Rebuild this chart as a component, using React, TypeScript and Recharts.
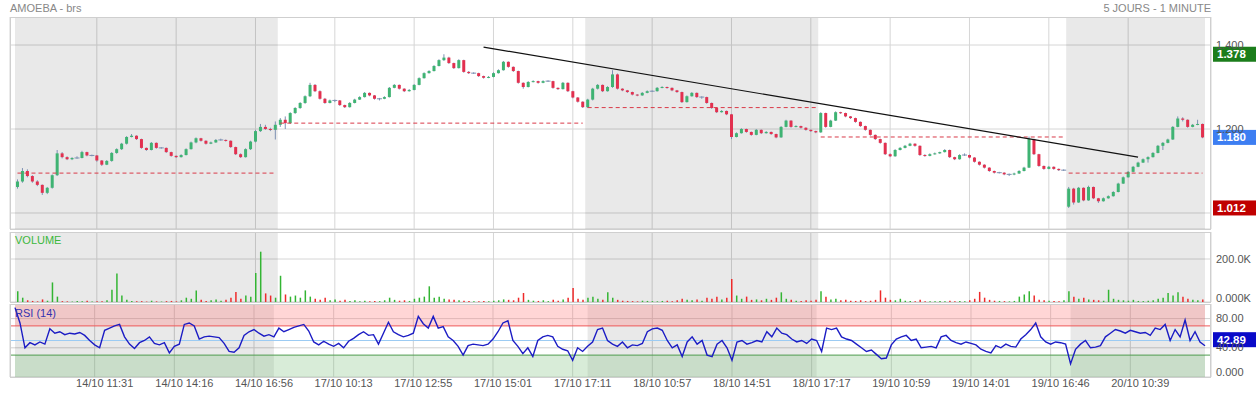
import {
  ComposedChart,
  Bar,
  Line,
  XAxis,
  YAxis,
  CartesianGrid,
  ReferenceArea,
  ReferenceLine,
  Cell,
} from "recharts";

const FONT = '"Liberation Sans", Arial, sans-serif';
const GREEN = "#3fb373";
const RED = "#e2304f";
const WICK = "#7d91b3";

// x axis: candle index of each label
const tickIdx = [16, 32, 48, 64, 80, 96, 112, 128, 144, 160, 176, 192, 208, 224];
const tickLabels = [
  "14/10 11:31", "14/10 14:16", "14/10 16:56", "17/10 10:13", "17/10 12:55",
  "17/10 15:01", "17/10 17:11", "18/10 10:57", "18/10 14:51", "18/10 17:17",
  "19/10 10:59", "19/10 14:01", "19/10 16:46", "20/10 10:39",
];

// grey sessions (14/10, 18/10, 20/10)
const shadeFrom = [0, 115, 212];
const shadeTo = [52, 161, 239];

// dashed red levels per session
const levelFrom = [0, 53, 115, 162, 212];
const levelTo = [52, 114, 161, 211, 239];
const levelValue = [1.095, 1.214, 1.251, 1.181, 1.095];

// trend line
const trendIdx = [94, 226];
const trendPrice = [1.395, 1.133];

// open, high, low, close
const candles: [number, number, number, number][] = [
  // 14/10
  [1.062, 1.080, 1.058, 1.075], [1.075, 1.107, 1.072, 1.100], [1.100, 1.104, 1.085, 1.088], [1.088, 1.090, 1.072, 1.075],
  [1.075, 1.078, 1.064, 1.067], [1.067, 1.068, 1.043, 1.048], [1.048, 1.062, 1.045, 1.060], [1.060, 1.092, 1.058, 1.090],
  [1.090, 1.150, 1.088, 1.142], [1.142, 1.145, 1.130, 1.133], [1.133, 1.135, 1.126, 1.128], [1.128, 1.133, 1.126, 1.131],
  [1.131, 1.135, 1.129, 1.131], [1.131, 1.148, 1.130, 1.145], [1.145, 1.146, 1.135, 1.137], [1.137, 1.139, 1.135, 1.137],
  [1.137, 1.138, 1.122, 1.125], [1.125, 1.126, 1.112, 1.115], [1.115, 1.126, 1.114, 1.124], [1.124, 1.145, 1.122, 1.143],
  [1.143, 1.154, 1.141, 1.152], [1.152, 1.167, 1.150, 1.165], [1.165, 1.183, 1.163, 1.181], [1.181, 1.188, 1.180, 1.184],
  [1.184, 1.185, 1.174, 1.176], [1.176, 1.177, 1.153, 1.155], [1.155, 1.156, 1.148, 1.150], [1.150, 1.169, 1.149, 1.167],
  [1.167, 1.168, 1.153, 1.155], [1.155, 1.157, 1.153, 1.155], [1.155, 1.156, 1.143, 1.145], [1.145, 1.146, 1.134, 1.136],
  [1.136, 1.137, 1.131, 1.133], [1.133, 1.140, 1.132, 1.138], [1.138, 1.154, 1.137, 1.152], [1.152, 1.170, 1.151, 1.168],
  [1.168, 1.180, 1.166, 1.178], [1.178, 1.179, 1.170, 1.172], [1.172, 1.173, 1.163, 1.165], [1.165, 1.170, 1.164, 1.168],
  [1.168, 1.176, 1.167, 1.174], [1.174, 1.177, 1.172, 1.174], [1.174, 1.175, 1.170, 1.172], [1.172, 1.173, 1.155, 1.157],
  [1.157, 1.158, 1.138, 1.140], [1.140, 1.142, 1.131, 1.133], [1.133, 1.154, 1.132, 1.152], [1.152, 1.172, 1.150, 1.170],
  [1.170, 1.198, 1.168, 1.195], [1.195, 1.212, 1.193, 1.205], [1.205, 1.210, 1.198, 1.200], [1.200, 1.203, 1.195, 1.198],
  [1.198, 1.218, 1.175, 1.210],
  // 17/10
  [1.210, 1.226, 1.205, 1.222], [1.222, 1.230, 1.200, 1.214], [1.214, 1.240, 1.212, 1.238],
  [1.238, 1.252, 1.236, 1.250], [1.250, 1.264, 1.248, 1.262], [1.262, 1.280, 1.260, 1.278], [1.278, 1.310, 1.276, 1.305],
  [1.305, 1.307, 1.288, 1.290], [1.290, 1.292, 1.270, 1.272], [1.272, 1.274, 1.260, 1.262], [1.262, 1.270, 1.261, 1.268],
  [1.268, 1.270, 1.264, 1.268], [1.268, 1.269, 1.255, 1.257], [1.257, 1.258, 1.250, 1.252], [1.252, 1.264, 1.251, 1.262],
  [1.262, 1.272, 1.261, 1.270], [1.270, 1.278, 1.269, 1.276], [1.276, 1.288, 1.275, 1.286], [1.286, 1.287, 1.278, 1.280],
  [1.280, 1.281, 1.270, 1.272], [1.272, 1.274, 1.268, 1.272], [1.272, 1.278, 1.271, 1.276], [1.276, 1.300, 1.275, 1.298],
  [1.298, 1.307, 1.297, 1.305], [1.305, 1.306, 1.294, 1.296], [1.296, 1.297, 1.288, 1.290], [1.290, 1.295, 1.289, 1.293],
  [1.293, 1.307, 1.292, 1.305], [1.305, 1.323, 1.304, 1.321], [1.321, 1.335, 1.320, 1.333], [1.333, 1.340, 1.332, 1.338],
  [1.338, 1.352, 1.337, 1.350], [1.350, 1.366, 1.349, 1.364], [1.364, 1.378, 1.362, 1.370], [1.370, 1.372, 1.355, 1.357],
  [1.357, 1.358, 1.343, 1.345], [1.345, 1.366, 1.344, 1.364], [1.364, 1.365, 1.334, 1.336], [1.336, 1.338, 1.331, 1.333],
  [1.333, 1.335, 1.331, 1.333], [1.333, 1.334, 1.324, 1.326], [1.326, 1.327, 1.320, 1.322], [1.322, 1.326, 1.321, 1.324],
  [1.324, 1.335, 1.323, 1.333], [1.333, 1.342, 1.332, 1.340], [1.340, 1.362, 1.339, 1.360], [1.360, 1.361, 1.346, 1.348],
  [1.348, 1.349, 1.336, 1.338], [1.338, 1.339, 1.308, 1.310], [1.310, 1.311, 1.296, 1.300], [1.300, 1.314, 1.299, 1.312],
  [1.312, 1.316, 1.311, 1.314], [1.314, 1.315, 1.308, 1.310], [1.310, 1.316, 1.309, 1.314], [1.314, 1.316, 1.312, 1.314],
  [1.314, 1.315, 1.296, 1.298], [1.298, 1.299, 1.293, 1.295], [1.295, 1.312, 1.294, 1.310], [1.310, 1.311, 1.288, 1.290],
  [1.290, 1.291, 1.273, 1.275], [1.275, 1.276, 1.263, 1.265], [1.265, 1.266, 1.250, 1.252],
  // 18/10
  [1.252, 1.272, 1.250, 1.270], [1.270, 1.298, 1.268, 1.296], [1.296, 1.307, 1.294, 1.305], [1.305, 1.306, 1.288, 1.290],
  [1.290, 1.302, 1.289, 1.300], [1.300, 1.340, 1.298, 1.330], [1.330, 1.332, 1.294, 1.296], [1.296, 1.297, 1.290, 1.292],
  [1.292, 1.293, 1.286, 1.288], [1.288, 1.289, 1.280, 1.282], [1.282, 1.283, 1.278, 1.280], [1.280, 1.288, 1.279, 1.286],
  [1.286, 1.292, 1.285, 1.290], [1.290, 1.292, 1.288, 1.290], [1.290, 1.300, 1.289, 1.298], [1.298, 1.302, 1.297, 1.300],
  [1.300, 1.301, 1.296, 1.298], [1.298, 1.299, 1.290, 1.292], [1.292, 1.293, 1.286, 1.288], [1.288, 1.289, 1.262, 1.264],
  [1.264, 1.280, 1.263, 1.278], [1.278, 1.288, 1.277, 1.286], [1.286, 1.287, 1.274, 1.276], [1.276, 1.278, 1.272, 1.276],
  [1.276, 1.277, 1.260, 1.262], [1.262, 1.263, 1.248, 1.250], [1.250, 1.251, 1.238, 1.240], [1.240, 1.245, 1.239, 1.243],
  [1.243, 1.244, 1.233, 1.235], [1.235, 1.236, 1.176, 1.181], [1.181, 1.192, 1.180, 1.190], [1.190, 1.202, 1.189, 1.200],
  [1.200, 1.201, 1.191, 1.193], [1.193, 1.194, 1.184, 1.186], [1.186, 1.200, 1.185, 1.198], [1.198, 1.199, 1.188, 1.190],
  [1.190, 1.195, 1.189, 1.193], [1.193, 1.194, 1.186, 1.188], [1.188, 1.189, 1.178, 1.180], [1.180, 1.207, 1.179, 1.205],
  [1.205, 1.222, 1.204, 1.220], [1.220, 1.221, 1.203, 1.205], [1.205, 1.209, 1.204, 1.207], [1.207, 1.208, 1.201, 1.203],
  [1.203, 1.204, 1.196, 1.198], [1.198, 1.199, 1.193, 1.195], [1.195, 1.196, 1.190, 1.192],
  // 19/10
  [1.192, 1.240, 1.191, 1.238], [1.238, 1.239, 1.203, 1.205], [1.205, 1.222, 1.204, 1.220], [1.220, 1.242, 1.219, 1.240],
  [1.240, 1.241, 1.236, 1.238], [1.238, 1.239, 1.228, 1.230], [1.230, 1.231, 1.224, 1.226], [1.226, 1.227, 1.215, 1.217],
  [1.217, 1.218, 1.205, 1.207], [1.207, 1.208, 1.196, 1.198], [1.198, 1.199, 1.184, 1.186], [1.186, 1.187, 1.174, 1.176],
  [1.176, 1.177, 1.165, 1.167], [1.167, 1.168, 1.138, 1.140], [1.140, 1.142, 1.133, 1.135], [1.135, 1.152, 1.134, 1.150],
  [1.150, 1.157, 1.149, 1.155], [1.155, 1.162, 1.154, 1.160], [1.160, 1.167, 1.159, 1.165], [1.165, 1.166, 1.158, 1.160],
  [1.160, 1.161, 1.136, 1.138], [1.138, 1.140, 1.134, 1.136], [1.136, 1.142, 1.135, 1.140], [1.140, 1.144, 1.139, 1.142],
  [1.142, 1.146, 1.141, 1.145], [1.145, 1.152, 1.144, 1.150], [1.150, 1.151, 1.131, 1.133], [1.133, 1.134, 1.126, 1.128],
  [1.128, 1.140, 1.127, 1.138], [1.138, 1.142, 1.136, 1.138], [1.138, 1.139, 1.130, 1.132], [1.132, 1.133, 1.120, 1.122],
  [1.122, 1.123, 1.113, 1.115], [1.115, 1.116, 1.106, 1.108], [1.108, 1.109, 1.098, 1.100], [1.100, 1.101, 1.094, 1.096],
  [1.096, 1.098, 1.094, 1.096], [1.096, 1.097, 1.090, 1.092], [1.092, 1.094, 1.088, 1.092], [1.092, 1.096, 1.090, 1.094],
  [1.094, 1.102, 1.093, 1.100], [1.100, 1.110, 1.099, 1.108], [1.108, 1.182, 1.107, 1.176], [1.176, 1.177, 1.138, 1.140],
  [1.140, 1.141, 1.110, 1.112], [1.112, 1.113, 1.103, 1.105], [1.105, 1.112, 1.104, 1.110], [1.110, 1.111, 1.103, 1.105],
  [1.105, 1.106, 1.100, 1.102], [1.102, 1.104, 1.100, 1.102],
  // 20/10
  [1.015, 1.062, 1.012, 1.058], [1.058, 1.060, 1.020, 1.025],
  [1.025, 1.062, 1.024, 1.060], [1.060, 1.061, 1.028, 1.030], [1.030, 1.065, 1.029, 1.062], [1.062, 1.063, 1.033, 1.035],
  [1.035, 1.036, 1.024, 1.028], [1.028, 1.037, 1.027, 1.035], [1.035, 1.042, 1.034, 1.040], [1.040, 1.052, 1.039, 1.050],
  [1.050, 1.072, 1.049, 1.070], [1.070, 1.087, 1.069, 1.085], [1.085, 1.100, 1.084, 1.098], [1.098, 1.112, 1.097, 1.110],
  [1.110, 1.122, 1.109, 1.120], [1.120, 1.130, 1.119, 1.128], [1.128, 1.135, 1.120, 1.133], [1.133, 1.145, 1.132, 1.143],
  [1.143, 1.162, 1.142, 1.160], [1.160, 1.169, 1.150, 1.167], [1.167, 1.177, 1.166, 1.175], [1.175, 1.207, 1.174, 1.205],
  [1.205, 1.230, 1.204, 1.225], [1.225, 1.228, 1.218, 1.222], [1.222, 1.223, 1.203, 1.205], [1.205, 1.212, 1.204, 1.210],
  [1.210, 1.222, 1.209, 1.212], [1.212, 1.213, 1.178, 1.180],
];

// volume in thousands
const volumesK = [
  50, 20, 8, 5, 3, 12, 6, 91, 25, 4,
  3, 2, 5, 3, 6, 2, 4, 3, 8, 57,
  132, 30, 10, 5, 3, 4, 2, 6, 3, 2,
  4, 5, 3, 8, 20, 15, 54, 10, 5, 8,
  12, 6, 10, 20, 47, 15, 30, 25, 135, 234,
  40, 30, 20, 122, 35, 25, 30, 20, 54, 25,
  15, 10, 20, 8, 12, 6, 10, 5, 8, 4,
  6, 3, 5, 4, 8, 20, 10, 6, 8, 5,
  15, 20, 25, 73, 20, 25, 15, 12, 10, 8,
  6, 5, 4, 3, 5, 4, 6, 8, 12, 10,
  8, 20, 42, 10, 6, 5, 8, 4, 10, 6,
  12, 20, 65, 15, 10, 20, 25, 15, 10, 45,
  20, 10, 6, 5, 4, 3, 6, 5, 4, 3,
  5, 6, 4, 8, 15, 10, 8, 12, 6, 20,
  15, 25, 12, 20, 107, 30, 15, 25, 10, 12,
  8, 15, 10, 20, 45, 15, 10, 6, 5, 8,
  6, 10, 50, 25, 12, 15, 8, 10, 6, 5,
  8, 4, 6, 10, 54, 20, 10, 8, 15, 6,
  5, 4, 10, 3, 4, 3, 5, 4, 6, 3,
  5, 4, 8, 15, 47, 20, 10, 6, 5, 4,
  3, 5, 25, 35, 50, 30, 10, 8, 6, 5,
  4, 8, 50, 25, 15, 20, 12, 10, 8, 6,
  57, 15, 10, 8, 6, 10, 5, 4, 6, 8,
  15, 20, 42, 30, 45, 25, 15, 10, 8, 12,
];

const rsi = [
  95, 74, 40, 47, 44, 48, 45, 66, 60, 62,
  58, 60, 59, 61, 57, 50, 44, 40, 64, 67,
  70, 72, 55, 45, 39, 47, 50, 55, 46, 44,
  47, 33, 42, 45, 72, 74, 70, 52, 55, 56,
  55, 54, 46, 35, 34, 40, 57, 62, 65, 60,
  56, 58, 55, 67, 62, 65, 68, 70, 72, 63,
  48, 44, 49, 45, 42, 46, 40, 49, 53, 58,
  62, 57, 58, 45, 60, 75, 62, 58, 55, 57,
  60, 83, 73, 67, 83, 67, 69, 55, 50, 42,
  30, 43, 45, 44, 43, 45, 52, 62, 74, 77,
  50, 42, 32, 40, 28, 50, 55, 57, 55, 42,
  38, 36, 23, 40, 35, 42, 48, 65, 67, 50,
  45, 42, 48, 40, 44, 43, 46, 62, 66, 67,
  64, 50, 40, 44, 28, 48, 55, 45, 50, 30,
  28, 45, 50, 40, 23, 48, 50, 45, 47, 50,
  48, 62, 55, 67, 60, 58, 52, 48, 50, 46,
  52, 50, 35, 67, 65, 67, 55, 52, 50, 45,
  40, 35, 37, 31, 25, 26, 44, 52, 55, 57,
  50, 52, 40, 41, 42, 40, 55, 57, 50, 47,
  45, 48, 46, 44, 38, 35, 33, 43, 40, 45,
  42, 41, 52, 58, 65, 74, 55, 48, 45, 48,
  47, 45, 18, 38, 45, 50, 40, 41, 43, 55,
  60, 65, 63, 60, 64, 62, 60, 61, 57, 67,
  65, 72, 50, 65, 55, 78, 50, 62, 48, 42.89,
];

const priceHigh = 1.378;
const priceLast = 1.18;
const priceLow = 1.012;
const rsiLast = 42.89;

const data = candles.map(([o, h, l, c], i) => ({
  i,
  o,
  h,
  l,
  c,
  range: [l, h],
  vol: volumesK[i],
  rsi: rsi[i],
}));

const chartMargin = { top: 0, right: 0, bottom: 0, left: 10 };
const xPad = { left: 5, right: 6 };

function Candle(props: any) {
  const { x, y, width, height, payload } = props;
  const { o, h, l, c } = payload;
  const cx = x + width / 2;
  if (!(h > l) || !(height > 0)) {
    return <line x1={x - 1} x2={x + width + 1} y1={y} y2={y} stroke={WICK} />;
  }
  const k = height / (h - l);
  const yo = y + (h - o) * k;
  const yc = y + (h - c) * k;
  const wick = <line x1={cx} x2={cx} y1={y} y2={y + height} stroke={WICK} strokeWidth={1} />;
  if (o === c) {
    return (
      <g>
        {wick}
        <line x1={x - 1} x2={x + width + 1} y1={yc} y2={yc} stroke={WICK} />
      </g>
    );
  }
  const top = Math.min(yo, yc);
  const bh = Math.max(Math.abs(yc - yo), 1);
  return (
    <g>
      {wick}
      <rect x={x} y={top} width={width} height={bh} fill={c > o ? GREEN : RED} />
    </g>
  );
}

function makeYTick(fmt: (v: number) => string, liftAt: number | null, lift: number) {
  return (props: any) => {
    const { x, y, payload } = props;
    const v = payload.value;
    return (
      <text x={x} y={y - (v === liftAt ? lift : 0)} dy={3.5} fill="#555" fontSize={11} fontFamily={FONT}>
        {fmt(v)}
      </text>
    );
  };
}

function XTick(props: any) {
  const { x, y, payload } = props;
  const k = tickIdx.indexOf(payload.value);
  return (
    <text x={x + 10} y={y} dy={8} textAnchor="middle" fill="#555" fontSize={11} fontFamily={FONT}>
      {k >= 0 ? tickLabels[k] : ""}
    </text>
  );
}

function badge(text: string, fill: string, lift = 0) {
  return (props: any) => {
    const { viewBox } = props;
    const x = viewBox.x + viewBox.width + 2;
    const y = viewBox.y - lift;
    return (
      <g>
        <rect x={x} y={y - 7.5} width={43} height={15} fill={fill} />
        <text x={x + 4} y={y + 4} fill="#fff" fontSize={11.5} fontWeight="bold" fontFamily={FONT}>
          {text}
        </text>
      </g>
    );
  };
}

const shades = shadeFrom.map((f, k) => (
  <ReferenceArea key={"s" + k} x1={f} x2={shadeTo[k]} fill="#000" fillOpacity={0.085} stroke="none" />
));

const panelBorder = (top: number, height: number) => ({
  position: "absolute" as const,
  left: 10,
  top,
  width: 1201,
  height,
  boxSizing: "border-box" as const,
  border: "1px solid #cfcfcf",
  pointerEvents: "none" as const,
});

export default function App() {
  return (
    <div
      style={{
        position: "absolute",
        left: 0,
        top: 0,
        width: 1256,
        height: 393,
        background: "#fff",
        fontFamily: FONT,
        overflow: "hidden",
      }}
    >
      <div style={{ position: "absolute", left: 10, top: 2, fontSize: 11, color: "#888" }}>AMOEBA - brs</div>
      <div style={{ position: "absolute", right: 45, top: 2, fontSize: 11, color: "#888" }}>5 JOURS - 1 MINUTE</div>

      {/* price */}
      <div style={{ position: "absolute", left: 0, top: 17 }}>
        <ComposedChart width={1256} height={212} data={data} margin={chartMargin} barSize={3}>
          <XAxis dataKey="i" hide ticks={tickIdx} interval={0} padding={xPad} />
          <YAxis
            orientation="right"
            width={45}
            domain={[0.9619, 1.4667]}
            allowDataOverflow
            ticks={[1.0, 1.2, 1.4]}
            interval={0}
            axisLine={false}
            tickLine={false}
            tickSize={3}
            tickMargin={2}
            tick={makeYTick((v) => (v === 1 ? "" : v.toFixed(3)), null, 0)}
          />
          {shades}
          <CartesianGrid stroke="#d6d6d6" />
          {levelFrom.map((f, k) => (
            <ReferenceLine
              key={"l" + k}
              segment={[
                { x: f, y: levelValue[k] },
                { x: levelTo[k], y: levelValue[k] },
              ]}
              stroke="#d93a48"
              strokeDasharray="4 3"
            />
          ))}
          <Bar dataKey="range" shape={Candle} isAnimationActive={false} />
          <ReferenceLine
            segment={[
              { x: trendIdx[0], y: trendPrice[0] },
              { x: trendIdx[1], y: trendPrice[1] },
            ]}
            stroke="#111"
            strokeWidth={1.2}
          />
          <ReferenceLine y={priceHigh} stroke="none" label={badge(priceHigh.toFixed(3), "#1b7d1b")} />
          <ReferenceLine y={priceLast} stroke="none" label={badge(priceLast.toFixed(3), "#3d7ef2")} />
          <ReferenceLine y={priceLow} stroke="none" label={badge(priceLow.toFixed(3), "#c00000")} />
        </ComposedChart>
      </div>
      <div style={panelBorder(17, 213)} />

      {/* volume */}
      <div style={{ position: "absolute", left: 0, top: 232 }}>
        <ComposedChart width={1256} height={70} data={data} margin={chartMargin} barSize={1.5}>
          <XAxis dataKey="i" hide ticks={tickIdx} interval={0} padding={xPad} />
          <YAxis
            orientation="right"
            width={45}
            domain={[0, 325.6]}
            ticks={[0, 200]}
            interval={0}
            axisLine={false}
            tickLine={false}
            tickSize={3}
            tickMargin={2}
            tick={makeYTick((v) => (v === 0 ? "0.000K" : v.toFixed(1) + "K"), 0, 4)}
          />
          {shades}
          <CartesianGrid stroke="#d6d6d6" />
          <Bar dataKey="vol" isAnimationActive={false}>
            {data.map((d) => (
              <Cell key={d.i} fill={d.c >= d.o ? "#33b533" : "#ee2a2a"} />
            ))}
          </Bar>
        </ComposedChart>
      </div>
      <div style={panelBorder(232, 71)} />
      <div style={{ position: "absolute", left: 15, top: 234, fontSize: 11, color: "#3cb83c" }}>VOLUME</div>

      {/* RSI */}
      <div style={{ position: "absolute", left: 0, top: 304 }}>
        <ComposedChart width={1256} height={89} data={data} margin={chartMargin}>
          <XAxis
            dataKey="i"
            ticks={tickIdx}
            interval={0}
            padding={xPad}
            height={16}
            axisLine={false}
            tickLine={false}
            tickSize={2}
            tickMargin={0}
            tick={XTick}
          />
          <YAxis
            orientation="right"
            width={45}
            domain={[0, 100]}
            ticks={[0, 40, 80]}
            interval={0}
            axisLine={false}
            tickLine={false}
            tickSize={3}
            tickMargin={2}
            tick={makeYTick((v) => (v === 0 ? "0.000" : v.toFixed(2)), 0, 5)}
          />
          {shades}
          <ReferenceArea y1={70} y2={100} fill="#ff8a8a" fillOpacity={0.35} stroke="none" />
          <ReferenceArea y1={0} y2={30} fill="#8fc98f" fillOpacity={0.35} stroke="none" />
          <CartesianGrid stroke="#d0d0d0" />
          <ReferenceLine y={70} stroke="#ee5a5a" />
          <ReferenceLine y={50} stroke="#9ccbf3" />
          <ReferenceLine y={30} stroke="#4f9d4f" />
          <Line
            dataKey="rsi"
            type="linear"
            stroke="#1c1cc4"
            strokeWidth={1.4}
            dot={false}
            isAnimationActive={false}
          />
          <ReferenceLine y={rsiLast} stroke="none" label={badge(rsiLast.toFixed(2), "#0a0ac8", 6)} />
        </ComposedChart>
      </div>
      <div style={panelBorder(304, 74)} />
      <div style={{ position: "absolute", left: 15, top: 307, fontSize: 11, color: "#3434b0" }}>RSI (14)</div>
    </div>
  );
}
